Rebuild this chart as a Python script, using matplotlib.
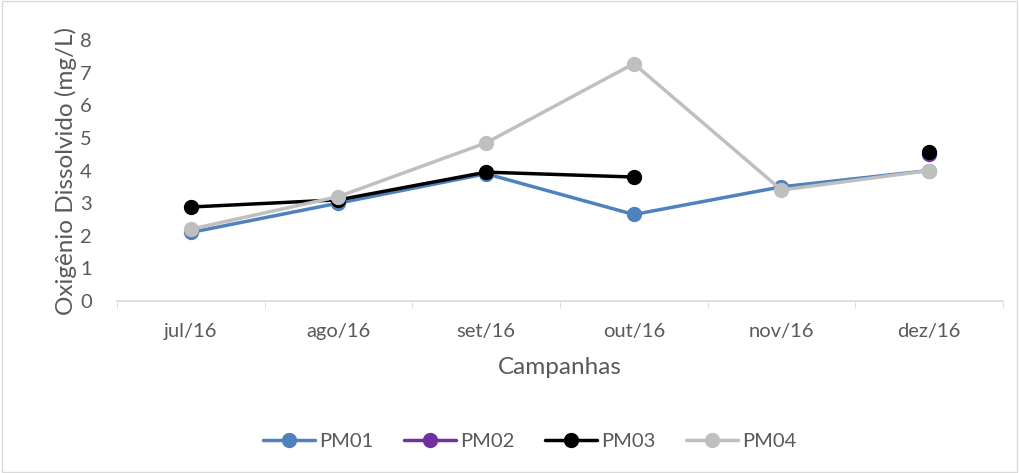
import numpy as np
import matplotlib.pyplot as plt
from matplotlib.patches import Rectangle

# --- dados ---
campanhas = ["jul/16", "ago/16", "set/16", "out/16", "nov/16", "dez/16"]
pm01 = [2.1, 3.0, 3.9, 2.65, 3.5, 4.0]
pm02 = [np.nan, np.nan, np.nan, np.nan, np.nan, 4.5]
pm03 = [2.88, 3.1, 3.95, 3.8, np.nan, 4.58]
pm04 = [2.2, 3.2, 4.85, 7.28, 3.4, 4.0]

series = [("PM01", pm01, "#4f81bd"), ("PM02", pm02, "#7030a0"),
          ("PM03", pm03, "#000000"), ("PM04", pm04, "#bfbfbf")]

plt.rcParams['font.family'] = ['Lato', 'DejaVu Sans']

fig = plt.figure(figsize=(10.19, 4.73), dpi=100)
ax = fig.add_axes([0.1148, 0.364, 0.8695, 0.551])

x = np.arange(len(campanhas))
for nome, vals, cor in series:
    ax.plot(x, vals, color=cor, linewidth=2.5, marker="o", markersize=10,
            label=nome, solid_capstyle="round")

ax.set_xlim(-0.5, len(campanhas) - 0.5)
ax.set_ylim(0, 8)
ax.set_yticks(range(0, 9))
ax.set_xticks(x)
ax.set_xticklabels(campanhas)
ax.set_xticks(np.arange(-0.5, len(campanhas), 1), minor=True)
ax.tick_params(axis="x", which="major", length=0, pad=16, labelsize=14.5, colors="#595959")
ax.tick_params(axis="x", which="minor", length=5, color="#d9d9d9")
ax.tick_params(axis="y", length=0, labelsize=14.5, colors="#595959", pad=18)

for s in ["top", "right", "left"]:
    ax.spines[s].set_visible(False)
ax.spines["bottom"].set_color("#d9d9d9")
ax.spines["bottom"].set_linewidth(1.2)

ax.set_xlabel("Campanhas", fontsize=17.5, color="#595959", labelpad=12)
ax.set_ylabel("Oxigênio Dissolvido (mg/L)", fontsize=17.5, color="#595959", labelpad=2)

fig.legend(loc="lower center", bbox_to_anchor=(0.52, 0.01), ncol=4, frameon=False,
           fontsize=14.5, handlelength=2.6, columnspacing=1.5, handletextpad=0.2,
           labelcolor="#595959")

fig.patches.append(Rectangle((0.002, 0.002), 0.996, 0.996, transform=fig.transFigure,
                             fill=False, edgecolor="#d9d9d9", linewidth=1))

fig.savefig("out.png", dpi=100)
